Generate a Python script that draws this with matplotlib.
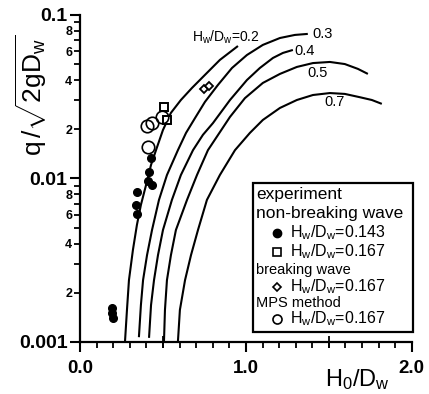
import matplotlib
matplotlib.use("Agg")
import matplotlib.pyplot as plt
from matplotlib.patches import Rectangle
from matplotlib.ticker import FixedLocator, MultipleLocator, NullFormatter

plt.rcParams["font.family"] = ["Liberation Sans", "DejaVu Sans"]
plt.rcParams["mathtext.fontset"] = "custom"
plt.rcParams["mathtext.rm"] = "Liberation Sans"
plt.rcParams["mathtext.it"] = "Liberation Sans:italic"

# theoretical curves, one per H_w/D_w
curve_labels = ["0.2", "0.3", "0.4", "0.5", "0.7"]
curve_x = [
    [0.271, 0.283, 0.295, 0.319, 0.343, 0.367, 0.398, 0.428, 0.458, 0.500,
     0.548, 0.608, 0.675, 0.753, 0.843, 0.952],
    [0.355, 0.367, 0.380, 0.404, 0.434, 0.476, 0.524, 0.590, 0.639, 0.693,
     0.753, 0.831, 0.916, 1.006, 1.102, 1.205, 1.295, 1.373],
    [0.416, 0.428, 0.446, 0.470, 0.500, 0.554, 0.608, 0.681, 0.741, 0.801,
     0.904, 1.006, 1.084, 1.163, 1.223, 1.283],
    [0.506, 0.512, 0.524, 0.548, 0.578, 0.645, 0.705, 0.771, 0.904, 0.994,
     1.102, 1.205, 1.307, 1.404, 1.506, 1.596, 1.675, 1.735],
    [0.590, 0.602, 0.633, 0.669, 0.711, 0.765, 0.843, 0.934, 1.024, 1.102,
     1.205, 1.307, 1.404, 1.506, 1.596, 1.687, 1.759, 1.819],
]
curve_q = [
    [0.00100, 0.00157, 0.00239, 0.00366, 0.00520, 0.00689, 0.00912, 0.0121,
     0.0149, 0.0198, 0.0252, 0.0302, 0.0358, 0.0430, 0.0531, 0.0646],
    [0.00107, 0.00168, 0.00239, 0.00340, 0.00484, 0.00740, 0.0105, 0.0149,
     0.0190, 0.0234, 0.0294, 0.0373, 0.0474, 0.0569, 0.0656, 0.0723, 0.0755,
     0.0766],
    [0.00106, 0.00168, 0.00239, 0.00340, 0.00484, 0.00740, 0.0105, 0.0149,
     0.0185, 0.0218, 0.0302, 0.0400, 0.0474, 0.0546, 0.0586, 0.0611],
    [0.00100, 0.00157, 0.00239, 0.00340, 0.00484, 0.00740, 0.0105, 0.0149,
     0.0238, 0.0310, 0.0384, 0.0436, 0.0481, 0.0508, 0.0516, 0.0501, 0.0468,
     0.0436],
    [0.00100, 0.00157, 0.00239, 0.00340, 0.00484, 0.00740, 0.0105, 0.0149,
     0.0190, 0.0228, 0.0270, 0.0302, 0.0324, 0.0333, 0.0329, 0.0314, 0.0302,
     0.0286],
]

# experiment, non-breaking wave, H_w/D_w = 0.143
nb143_x = [0.428, 0.416, 0.410, 0.434, 0.343, 0.337, 0.343, 0.193, 0.193, 0.199]
nb143_q = [0.0133, 0.0110, 0.00966, 0.00912, 0.00827, 0.00689, 0.00607,
           0.00161, 0.00150, 0.00140]
# experiment, non-breaking wave, H_w/D_w = 0.167
nb167_x = [0.506, 0.524]
nb167_q = [0.0274, 0.0228]
# experiment, breaking wave, H_w/D_w = 0.167
br167_x = [0.747, 0.777]
br167_q = [0.0353, 0.0368]
# MPS method, H_w/D_w = 0.167
mps_x = [0.404, 0.434, 0.494, 0.410]
mps_q = [0.0209, 0.0218, 0.0238, 0.0156]

fig = plt.figure(figsize=(4.29, 3.94), dpi=100)
ax = fig.add_axes([0.1865, 0.132, 0.7735, 0.830])

for xs, qs in zip(curve_x, curve_q):
    ax.plot(xs, qs, color="black", lw=1.5, solid_capstyle="butt")

ax.plot(nb143_x, nb143_q, "o", color="black", ms=5.5, ls="none")
ax.plot(nb167_x, nb167_q, "s", mfc="white", mec="black", mew=1.4, ms=5.5, ls="none")
ax.plot(br167_x, br167_q, "D", mfc="white", mec="black", mew=1.3, ms=4.5, ls="none")
ax.plot(mps_x, mps_q, "o", mfc="none", mec="black", mew=1.2, ms=9, ls="none")

# curve labels
ax.text(0.675, 0.0733, r"H$_\mathregular{w}$/D$_\mathregular{w}$=0.2",
        fontsize=10, va="center", ha="left")
ax.text(1.398, 0.0766, "0.3", fontsize=10.5, va="center", ha="left")
ax.text(1.295, 0.0602, "0.4", fontsize=10.5, va="center", ha="left")
ax.text(1.373, 0.0441, "0.5", fontsize=10.5, va="center", ha="left")
ax.text(1.470, 0.0294, "0.7", fontsize=10.5, va="center", ha="left")

ax.set_yscale("log")
ax.set_xlim(0, 2.0)
ax.set_ylim(0.001, 0.1)

for side in ("top", "right"):
    ax.spines[side].set_visible(False)
for side in ("left", "bottom"):
    ax.spines[side].set_linewidth(1.6)

ax.xaxis.set_major_locator(FixedLocator([0.0, 1.0, 2.0]))
ax.set_xticklabels(["0.0", "1.0", "2.0"])
ax.xaxis.set_minor_locator(MultipleLocator(0.1))
ax.tick_params(axis="x", which="major", direction="out", length=7, width=1.5,
               labelsize=13.5, pad=6)
ax.tick_params(axis="x", which="minor", direction="out", length=4, width=1.3)
for lab in ax.get_xticklabels():
    lab.set_fontweight("bold")

sec = ax.secondary_xaxis("bottom")
sec.set_xticks([0.5, 1.5])
sec.tick_params(direction="inout", length=9, width=1.3, labelbottom=False)
sec.spines["bottom"].set_visible(False)

ax.yaxis.set_major_locator(FixedLocator([0.001, 0.01, 0.1]))
ax.set_yticklabels(["0.001", "0.01", "0.1"])
minor_y = [m * d for d in (0.001, 0.01) for m in range(2, 10)]
minor_labels = []
for d in (0.001, 0.01):
    for m in range(2, 10):
        minor_labels.append(str(m) if m in (2, 4, 6, 8) else "")
ax.yaxis.set_minor_formatter(NullFormatter())
ax.set_yticks(minor_y, minor=True)
ax.set_yticklabels(minor_labels, minor=True)
ax.tick_params(axis="y", which="major", direction="out", length=7, width=1.5,
               labelsize=14, pad=2)
ax.tick_params(axis="y", which="minor", direction="out", length=4, width=1.3,
               labelsize=9, pad=1.5)
for lab in ax.get_yticklabels() + ax.get_yticklabels(minor=True):
    lab.set_fontweight("bold")

fig.text(31 / 429, 1 - 95 / 394, r"$\mathregular{q\,/\sqrt{2gD_w}}$",
         rotation=90, fontsize=19, ha="center", va="center")
fig.text(357 / 429, 1 - 380 / 394, r"H$_\mathregular{0}$/D$_\mathregular{w}$",
         fontsize=17, ha="center", va="center")

# legend box drawn by hand to keep the grouped headings
tr = ax.transAxes
ax.add_patch(Rectangle((0.521, 0.031), 0.482, 0.455, transform=tr, fc="white",
                       ec="black", lw=1.6, clip_on=False, zorder=5))
hw = r"H$_\mathregular{w}$/D$_\mathregular{w}$="
ax.text(0.531, 0.450, "experiment", transform=tr, fontsize=12.5, va="center", zorder=6)
ax.text(0.531, 0.394, "non-breaking wave", transform=tr, fontsize=12.5, va="center", zorder=6)
ax.text(0.531, 0.220, "breaking wave", transform=tr, fontsize=10.5, va="center", zorder=6)
ax.text(0.531, 0.119, "MPS method", transform=tr, fontsize=10.5, va="center", zorder=6)
entries = [
    (0.333, dict(marker="o", color="black", ms=6), "0.143"),
    (0.275, dict(marker="s", mfc="white", mec="black", mew=1.2, ms=6), "0.167"),
    (0.168, dict(marker="D", mfc="white", mec="black", mew=1.2, ms=4.5), "0.167"),
    (0.070, dict(marker="o", mfc="white", mec="black", mew=1.2, ms=6.5), "0.167"),
]
for ypos, style, val in entries:
    ax.plot([0.593], [ypos], transform=tr, clip_on=False, ls="none", zorder=6, **style)
    ax.text(0.633, ypos, hw + val, transform=tr, fontsize=11.5, va="center", zorder=6)

fig.savefig("out.png", dpi=100)
